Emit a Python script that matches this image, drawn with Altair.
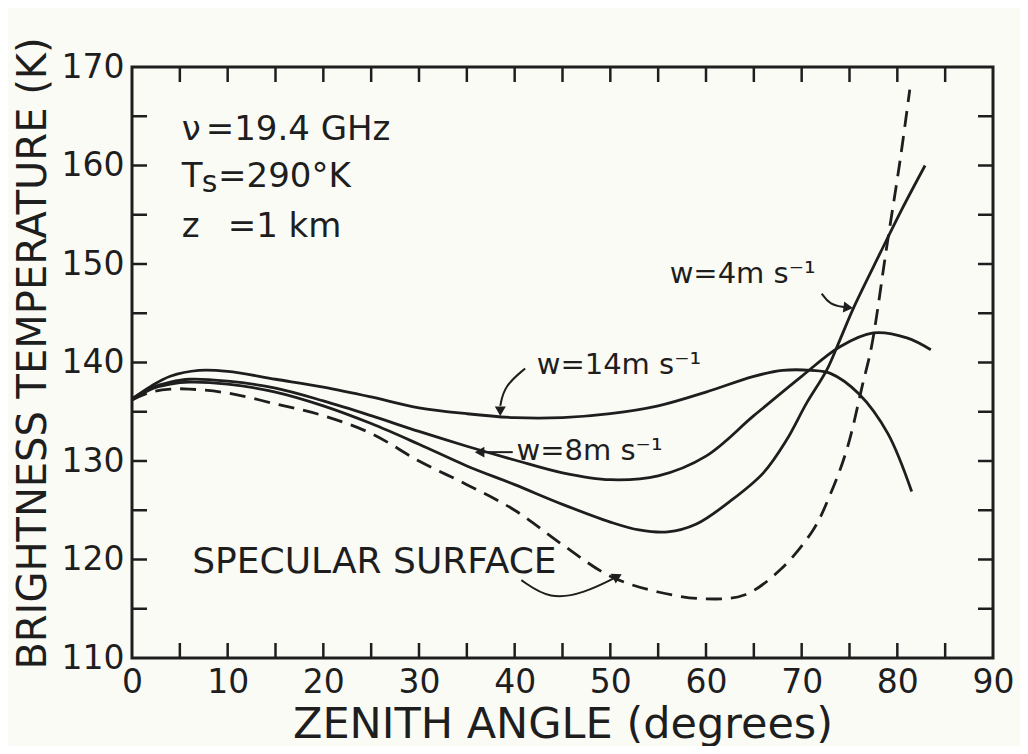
import altair as alt
import pandas as pd

# ---------------- data ----------------
ang_w14 = [0, 2, 4, 7, 10, 15, 20, 25, 30, 35, 40, 45, 50, 55, 60, 65, 68, 71, 73, 76, 79, 81.5]
tb_w14 = [136.3, 137.6, 138.6, 139.2, 139.1, 138.3, 137.5, 136.5, 135.4, 134.8, 134.4, 134.4, 134.8, 135.6, 137.0, 138.6, 139.2, 139.2, 138.9, 136.8, 132.8, 126.9]

ang_w8 = [0, 2, 4, 6, 10, 15, 20, 25, 30, 35, 40, 45, 50, 55, 60, 65, 70, 74, 77.5, 81, 83.5]
tb_w8 = [136.3, 137.4, 138.0, 138.3, 138.1, 137.4, 136.1, 134.6, 133.0, 131.5, 130.1, 128.8, 128.1, 128.5, 130.5, 134.6, 138.6, 141.6, 143.0, 142.5, 141.3]

ang_w4 = [0, 2, 4, 6, 10, 15, 20, 25, 30, 35, 40, 45, 50, 53, 56, 59, 62.5, 66, 68.4, 70.5, 72.6, 74, 75.4, 78.2, 80.5, 82.9]
tb_w4 = [136.2, 137.3, 137.8, 138.0, 137.8, 137.0, 135.6, 133.8, 131.7, 129.5, 127.6, 125.6, 123.8, 123.0, 122.8, 123.6, 125.9, 128.8, 132.1, 135.85, 139.2, 142.3, 145.5, 151.1, 155.6, 160.0]

ang_spec = [0, 2, 4, 6, 10, 15, 20, 25, 30, 35, 40, 45, 50, 55, 60, 64, 67.7, 71.2, 72.9, 74.7, 76.4, 77.3, 78.9, 80.3, 81.3]
tb_spec = [136.2, 137.0, 137.3, 137.3, 136.9, 135.8, 134.6, 132.8, 130.0, 127.6, 125.0, 121.5, 118.3, 116.7, 116.0, 116.4, 118.9, 123.0, 126.4, 131.1, 137.9, 141.6, 151.8, 160.6, 167.7]

x_labels = [0, 10, 20, 30, 40, 50, 60, 70, 80, 90]
y_labels = [110, 120, 130, 140, 150, 160, 170]
x_inner = [5, 10, 15, 20, 25, 30, 35, 40, 45, 50, 55, 60, 65, 70, 75, 80, 85]
y_inner = [115, 120, 125, 130, 135, 140, 145, 150, 155, 160, 165]

# annotation texts: (angle, temperature, text, font size)
notes = [
    (5.2, 162.6, "ν", 34),
    (7.7, 162.6, "=19.4 GHz", 34),
    (5.2, 157.8, "T", 34),
    (7.3, 157.3, "s", 30),
    (9.0, 157.8, "=290°K", 34),
    (5.2, 152.7, "z", 34),
    (10.0, 152.7, "=1 km", 34),
    (42.3, 138.8, "w=14m s⁻¹", 29),
    (40.2, 130.1, "w=8m s⁻¹", 29),
    (56.2, 148.1, "w=4m s⁻¹", 29),
    (6.3, 118.6, "SPECULAR SURFACE", 36),
]

# annotation arrows: shafts and heads
arrow_w14_x = [41.1, 38.9, 38.5]
arrow_w14_y = [139.4, 137.6, 135.6]
arrow_w8_x = [39.8, 36.6]
arrow_w8_y = [130.9, 130.9]
arrow_w4_x = [72.1, 72.9, 74.5]
arrow_w4_y = [147.0, 145.9, 145.6]
arrow_sp_x = [40.7, 43.7, 47.3, 50.4]
arrow_sp_y = [117.9, 115.9, 116.6, 118.1]
head_x = [38.5, 36.5, 74.7, 50.6]
head_y = [135.2, 130.9, 145.6, 118.2]
head_angle = [180, 270, 97, 63]

# ---------------- build ----------------
INK = "#1e1e1e"
FONT = "DejaVu Sans"
W, H = 861, 591
X0, X1, Y0, Y1 = 0, 90, 110, 170
TKX = 15 / W * (X1 - X0)   # tick length in axis units
TKY = 15 / H * (Y1 - Y0)

rows = []
for name, a, t in [("w14", ang_w14, tb_w14), ("w8", ang_w8, tb_w8), ("w4", ang_w4, tb_w4)]:
    for xv, yv in zip(a, t):
        rows.append({"series": name, "angle": xv, "tb": yv})
solid_df = pd.DataFrame(rows)
spec_df = pd.DataFrame({"angle": ang_spec, "tb": tb_spec})

xs = alt.Scale(domain=[X0, X1], nice=False, zero=False)
ys = alt.Scale(domain=[Y0, Y1], nice=False, zero=False)

main = alt.Chart(solid_df).mark_line(color=INK, strokeWidth=2.8, interpolate="catmull-rom").encode(
    x=alt.X("angle:Q", scale=xs, axis=alt.Axis(
        orient="bottom", values=x_labels, ticks=False, domain=False, grid=False,
        labelFontSize=33, labelPadding=8, labelFlush=False, labelFont=FONT, labelColor=INK,
        title="ZENITH ANGLE (degrees)", titleFontSize=43, titleFont=FONT,
        titleFontWeight="normal", titleColor=INK, titleY=79, titleBaseline="alphabetic")),
    y=alt.Y("tb:Q", scale=ys, axis=alt.Axis(
        orient="left", values=y_labels, ticks=False, domain=False, grid=False,
        labelFontSize=33, labelPadding=8, labelFlush=False, labelFont=FONT, labelColor=INK,
        title="BRIGHTNESS TEMPERATURE (K)", titleFontSize=40, titleFont=FONT,
        titleFontWeight="normal", titleColor=INK, titleX=-87, titleY=286,
        titleAngle=270, titleAlign="center", titleBaseline="alphabetic")),
    detail="series:N",
)

spec = alt.Chart(spec_df).mark_line(color=INK, strokeWidth=2.8, strokeDash=[16, 9], interpolate="catmull-rom").encode(
    x=alt.X("angle:Q", scale=xs),
    y=alt.Y("tb:Q", scale=ys),
)

# inner ticks on all four sides of the frame
xt = pd.DataFrame({"v": x_inner, "b0": [Y0] * len(x_inner), "b1": [Y0 + TKY] * len(x_inner),
                   "t0": [Y1 - TKY] * len(x_inner), "t1": [Y1] * len(x_inner)})
yt = pd.DataFrame({"v": y_inner, "l0": [X0] * len(y_inner), "l1": [X0 + TKX] * len(y_inner),
                   "r0": [X1 - TKX] * len(y_inner), "r1": [X1] * len(y_inner)})
tick_style = dict(color=INK, strokeWidth=2.5)
bottom_ticks = alt.Chart(xt).mark_rule(**tick_style).encode(
    x=alt.X("v:Q", scale=xs), y=alt.Y("b0:Q", scale=ys), y2="b1:Q")
top_ticks = alt.Chart(xt).mark_rule(**tick_style).encode(
    x=alt.X("v:Q", scale=xs), y=alt.Y("t0:Q", scale=ys), y2="t1:Q")
left_ticks = alt.Chart(yt).mark_rule(**tick_style).encode(
    y=alt.Y("v:Q", scale=ys), x=alt.X("l0:Q", scale=xs), x2="l1:Q")
right_ticks = alt.Chart(yt).mark_rule(**tick_style).encode(
    y=alt.Y("v:Q", scale=ys), x=alt.X("r0:Q", scale=xs), x2="r1:Q")

layers = [main, spec, bottom_ticks, top_ticks, left_ticks, right_ticks]

for (nx, ny, txt, fs) in notes:
    d = pd.DataFrame({"x": [nx], "y": [ny], "t": [txt]})
    layers.append(
        alt.Chart(d).mark_text(align="left", baseline="alphabetic", fontSize=fs, font=FONT, color=INK).encode(
            x=alt.X("x:Q", scale=xs),
            y=alt.Y("y:Q", scale=ys),
            text="t:N",
        )
    )

for axs, ays in [(arrow_w14_x, arrow_w14_y), (arrow_w8_x, arrow_w8_y), (arrow_w4_x, arrow_w4_y), (arrow_sp_x, arrow_sp_y)]:
    d = pd.DataFrame({"x": axs, "y": ays, "i": list(range(len(axs)))})
    layers.append(
        alt.Chart(d).mark_line(color=INK, strokeWidth=2, interpolate="basis").encode(
            x=alt.X("x:Q", scale=xs),
            y=alt.Y("y:Q", scale=ys),
            order="i:Q",
        )
    )

heads = pd.DataFrame({"x": head_x, "y": head_y, "a": head_angle})
layers.append(
    alt.Chart(heads).mark_point(shape="triangle", filled=True, color=INK, opacity=1, size=120).encode(
        x=alt.X("x:Q", scale=xs),
        y=alt.Y("y:Q", scale=ys),
        angle=alt.Angle("a:Q", scale=None),
    )
)

chart = alt.layer(*layers).properties(
    width=W, height=H,
    autosize=alt.AutoSizeParams(type="none"),
    padding={"left": 124, "top": 59, "right": 27, "bottom": 88},
).configure(background="#fbfbf6").configure_view(stroke=INK, strokeWidth=3)

chart.save("out.html", embed_options={"renderer": "svg", "actions": False})
